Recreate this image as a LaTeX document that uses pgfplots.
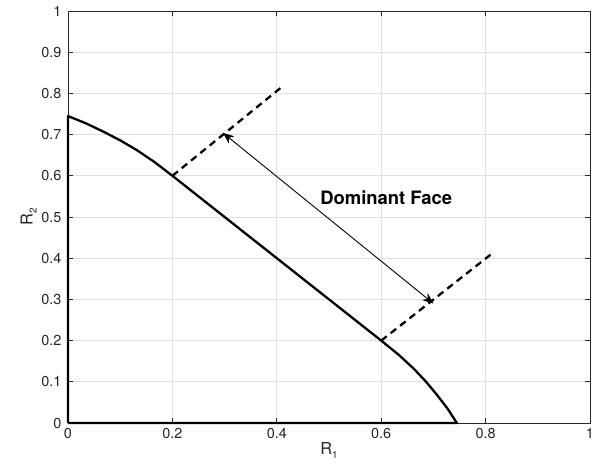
\documentclass[border=0pt]{standalone}
\usepackage{fontspec}
\setmainfont{TeX Gyre Heros}
\usepackage{pgfplots}
\pgfplotsset{compat=1.18}
\usetikzlibrary{arrows.meta}
\definecolor{gridc}{gray}{0.88}
\definecolor{axc}{gray}{0.15}
\begin{document}
\begin{tikzpicture}[x=1bp,y=1bp]
\path[use as bounding box] (-68,-47) rectangle (524,423);
\begin{axis}[
  at={(0,0)}, anchor=origin,
  scale only axis, width=522bp, height=412bp,
  xmin=0, xmax=1, ymin=0, ymax=1,
  xtick={0,0.2,0.4,0.6,0.8,1},
  ytick={0,0.1,0.2,0.3,0.4,0.5,0.6,0.7,0.8,0.9,1},
  xticklabels={0,0.2,0.4,0.6,0.8,1},
  yticklabels={0,0.1,0.2,0.3,0.4,0.5,0.6,0.7,0.8,0.9,1},
  /pgf/number format/assume math mode=true,
  grid=major, major grid style={gridc, line width=0.8bp},
  axis line style={axc, line width=0.8bp},
  tick style={axc, line width=0.8bp},
  major tick length=5bp,
  tick align=inside,
  xtick pos=both, ytick pos=both,
  ticklabel style={font=\fontsize{14.5}{16}\selectfont, text=axc},
  yticklabel style={xshift=-3bp},
  xticklabel style={yshift=-2bp},
  xlabel={R\raisebox{-4bp}{\fontsize{10}{10}\selectfont 1}}, ylabel={R\raisebox{-4bp}{\fontsize{10}{10}\selectfont 2}},
  label style={font=\fontsize{16.5}{18}\selectfont, text=axc},
  xlabel style={yshift=3bp},
  ylabel style={yshift=-2bp},
  clip=false,
]
\addplot[black, line width=2.3bp, line join=round] coordinates {
 (0,0) (0,0.745) (0.035,0.727) (0.068,0.707) (0.1,0.686) (0.131,0.663) (0.165,0.634) (0.2,0.6) (0.4,0.4) (0.6,0.2) (0.634,0.165) (0.663,0.131) (0.686,0.1) (0.707,0.068) (0.727,0.035) (0.745,0) (0,0)};
\addplot[black, line width=2.3bp, dash pattern=on 7bp off 5bp] coordinates {(0.2,0.6) (0.407,0.813)};
\addplot[black, line width=2.3bp, dash pattern=on 7bp off 5bp] coordinates {(0.6,0.2) (0.814,0.413)};
\addplot[black, line width=0.9bp, {Stealth[length=11bp,width=9bp,inset=3.5bp]}-{Stealth[length=11bp,width=9bp,inset=3.5bp]}] coordinates {(0.297,0.704) (0.70,0.29)};
\node[anchor=west, font=\bfseries\fontsize{18.5}{20}\selectfont, inner sep=0pt] at (axis cs:0.483,0.546) {Dominant Face};
\end{axis}
\end{tikzpicture}
\end{document}
